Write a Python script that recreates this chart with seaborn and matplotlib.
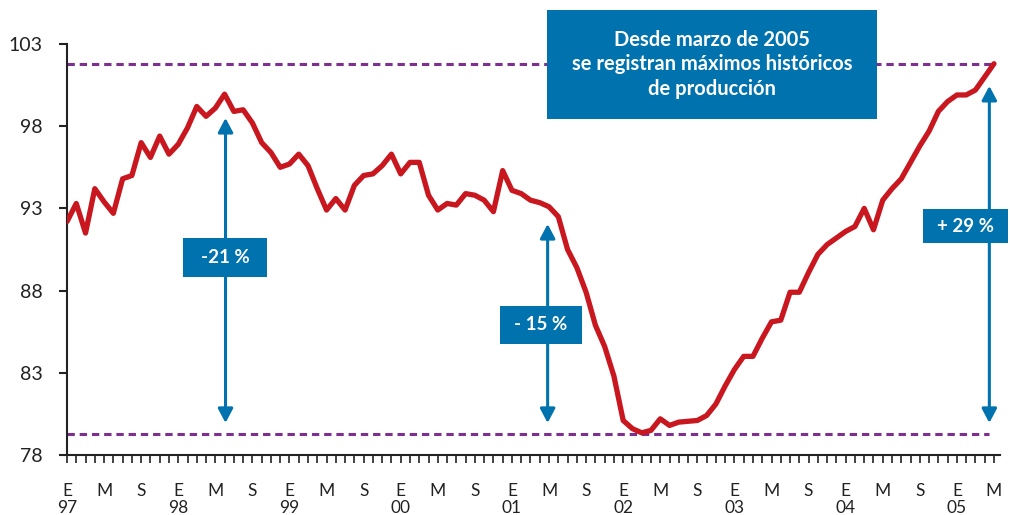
import numpy as np
import pandas as pd
import matplotlib
matplotlib.use('Agg')
import matplotlib.pyplot as plt
import seaborn as sns
from matplotlib.patches import Rectangle

# indice de produccion mensual, enero 1997 - mayo 2005
produccion = [92.2, 93.3, 91.5, 94.2, 93.4, 92.7, 94.8, 95.0, 97.0, 96.1,
              97.4, 96.3, 96.9, 97.9, 99.2, 98.6, 99.1, 99.95, 98.9, 99.0,
              98.2, 97.0, 96.4, 95.5, 95.7, 96.3, 95.6, 94.2, 92.9, 93.6,
              92.9, 94.4, 95.0, 95.1, 95.6, 96.3, 95.1, 95.8, 95.8, 93.8,
              92.9, 93.3, 93.2, 93.9, 93.8, 93.5, 92.8, 95.3, 94.1, 93.9,
              93.5, 93.35, 93.1, 92.5, 90.5, 89.4, 87.9, 85.9, 84.6, 82.8,
              80.1, 79.6, 79.35, 79.5, 80.2, 79.8, 80.0, 80.05, 80.1, 80.4,
              81.1, 82.2, 83.2, 84.0, 84.0, 85.1, 86.1, 86.2, 87.9, 87.9,
              89.1, 90.2, 90.8, 91.2, 91.6, 91.9, 93.0, 91.7, 93.5, 94.2,
              94.8, 95.8, 96.8, 97.7, 98.9, 99.5, 99.9, 99.9, 100.2, 101.0,
              101.8]
meses = list(range(len(produccion)))
etiquetas_mes = ['E', 'M', 'S']
anios = ['97', '98', '99', '00', '01', '02', '03', '04', '05']
y_ticks = [78, 83, 88, 93, 98, 103]

maximo = 101.8
minimo = 79.3

# flechas de variacion
flecha_x = [17.1, 51.85, 99.5]
flecha_arriba = [98.5, 92.05, 100.45]
flecha_abajo = [79.95, 79.95, 79.95]
flecha_texto = ['-21 %', '- 15 %', '+ 29 %']

rojo = '#C8171F'
azul = '#0072AE'
morado = '#7D3090'

sns.set_theme(style='white')
plt.rcParams['font.family'] = ['Lato', 'DejaVu Sans']

fig = plt.figure(figsize=(10.1, 5.15), dpi=100)
ax = fig.add_axes([67/1010, 1-455/515, (1000-67)/1010, (455-44)/515])

df = pd.DataFrame({'mes': meses, 'valor': produccion})
sns.lineplot(data=df, x='mes', y='valor', ax=ax, color=rojo, linewidth=3.8,
             solid_capstyle='round', solid_joinstyle='round', zorder=3)

ax.hlines(maximo, 0, 100, color=morado, lw=2.2, linestyles=(0, (2.4, 1.6)), zorder=2)
ax.hlines(minimo, 0, 99.5, color=morado, lw=2.2, linestyles=(0, (2.4, 1.6)), zorder=2)

ax.set_xlim(0, 100.65)
ax.set_ylim(78, 103)
ax.set_xlabel('')
ax.set_ylabel('')

for s in ['top', 'right']:
    ax.spines[s].set_visible(False)
for s in ['left', 'bottom']:
    ax.spines[s].set_color('#222222')
    ax.spines[s].set_linewidth(1.5)

ax.set_yticks(y_ticks)
ax.set_yticklabels([str(v) for v in y_ticks])

xlabels = []
for i in meses:
    if i % 4 == 0:
        lab = etiquetas_mes[(i // 4) % 3]
        if i % 12 == 0:
            lab += '\n' + anios[i // 12]
        xlabels.append(lab)
    else:
        xlabels.append('')
ax.set_xticks(meses)
ax.set_xticklabels(xlabels, linespacing=1.08)

ax.tick_params(axis='y', length=5.5, width=1.5, pad=12, labelsize=14,
               colors='#222222', left=True)
ax.tick_params(axis='x', length=6, width=1.2, pad=14, labelsize=12.5,
               colors='#222222', bottom=True)

# flechas (dibujadas antes que las cajas)
for x, top, bot in zip(flecha_x, flecha_arriba, flecha_abajo):
    ax.annotate('', xy=(x, top), xytext=(x, bot),
                arrowprops=dict(arrowstyle='<|-|>,head_length=0.85,head_width=0.45',
                                color=azul, lw=2.2, shrinkA=0, shrinkB=0,
                                mutation_scale=10), zorder=4)

def caja(x0, y0, x1, y1, texto, size, ls=1.2):
    r = Rectangle((x0/1010, 1-y1/515), (x1-x0)/1010, (y1-y0)/515,
                  transform=fig.transFigure, facecolor=azul, edgecolor='none',
                  clip_on=False, zorder=6)
    ax.add_patch(r)
    ax.text((x0+x1)/2/1010, 1-(y0+y1)/2/515, texto, transform=fig.transFigure,
            ha='center', va='center', color='white', fontsize=size,
            fontweight='bold', linespacing=ls, zorder=7, clip_on=False)

caja(547, 10, 877, 119,
     'Desde marzo de 2005\nse registran máximos históricos\nde producción', 14.5, 1.3)
caja(183, 238, 267, 277, flecha_texto[0], 13.5)
caja(500, 306, 582, 344, flecha_texto[1], 13.5)
caja(923, 209, 1008, 243, flecha_texto[2], 13.5)

fig.savefig('out.png', dpi=100)
